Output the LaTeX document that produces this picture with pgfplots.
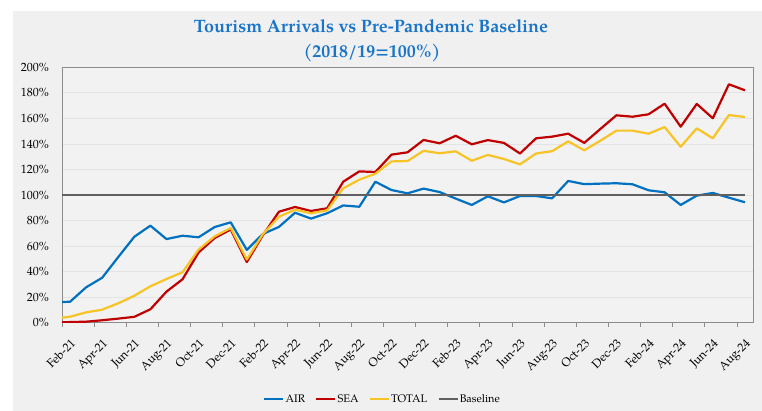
\documentclass[border=0pt]{standalone}
\usepackage{pgfplots}
\pgfplotsset{compat=1.18}
\usepackage{fontspec}
\setmainfont{texgyrepagella}[Extension=.otf, UprightFont=*-regular, BoldFont=*-bold, ItalicFont=*-italic, BoldItalicFont=*-bolditalic]
\definecolor{airc}{HTML}{0070C0}
\definecolor{seac}{HTML}{C00000}
\definecolor{totc}{HTML}{F7C325}
\definecolor{basec}{HTML}{606060}
\definecolor{bgc}{HTML}{F0F0F0}
\definecolor{plotbg}{HTML}{F2F2F2}
\definecolor{gridc}{HTML}{E3E3E3}
\definecolor{titc}{HTML}{1A75C8}
\definecolor{axc}{HTML}{8C8C8C}
\begin{document}
\begin{tikzpicture}
\useasboundingbox (0bp,0bp) rectangle (762bp,411bp);
\fill[white] (0bp,0bp) rectangle (762bp,411bp);
\fill[bgc] (13bp,0bp) rectangle (762bp,400bp);
\node[font=\fontsize{18}{21}\selectfont\bfseries, text=titc, anchor=base] at (371bp,378bp) {Tourism Arrivals vs Pre-Pandemic Baseline};
\node[font=\fontsize{18}{21}\selectfont\bfseries, text=titc, anchor=base] at (372bp,353bp) {(2018/19=100\%)};
\begin{axis}[
  at={(62bp,88.3bp)}, anchor=south west,
  scale only axis, width=691bp, height=255.4bp,
  xmin=0, xmax=43, ymin=0, ymax=200,
  axis background/.style={fill=plotbg},
  axis line style={draw=axc, line width=0.8bp},
  xtick={0,2,...,42},
  xticklabels={Feb-21,Apr-21,Jun-21,Aug-21,Oct-21,Dec-21,Feb-22,Apr-22,Jun-22,Aug-22,Oct-22,Dec-22,Feb-23,Apr-23,Jun-23,Aug-23,Oct-23,Dec-23,Feb-24,Apr-24,Jun-24,Aug-24},
  ytick={0,20,...,200},
  yticklabels={0\%,20\%,40\%,60\%,80\%,100\%,120\%,140\%,160\%,180\%,200\%},
  ymajorgrids, major grid style={draw=gridc, line width=0.8bp},
  tick align=outside, xtick pos=left, ytick pos=left,
  major tick length=4bp,
  ytick style={draw=none},
  xtick style={draw=axc, line width=0.8bp},
  tick label style={font=\fontsize{12}{14}\selectfont},
  /pgf/number format/assume math mode=true,
  yticklabel style={inner sep=0pt, xshift=-9bp},
  xticklabel style={anchor=north east, inner sep=0pt, xshift=8bp, yshift=-11bp, rotate=45},
  legend style={at={(0.463,-0.299)}, anchor=center, draw=none, fill=none, font=\fontsize{11}{13}\selectfont, inner sep=0pt,
    nodes={inner xsep=1bp},
    /tikz/every even column/.append style={column sep=9bp},
    /tikz/every odd column/.append style={column sep=0bp}},
  legend columns=4,
  legend image code/.code={\draw[#1, line width=2.5bp] (0bp,0bp) -- (19bp,0bp);},
  every axis plot/.append style={line join=round},
]
\addplot[draw=airc, line width=2.2bp] coordinates {
(0,16.2) (0.5,16.4) (1.5,27.7) (2.5,35.2) (3.5,51.4) (4.5,67.3) (5.5,76.0) (6.5,65.5) (7.5,68.1) (8.5,66.9) (9.5,74.9) (10.5,78.6)
(11.5,57.0) (12.5,69.5) (13.5,75.0) (14.5,86.1) (15.5,81.5) (16.5,85.7) (17.5,91.8) (18.5,90.8) (19.5,110.4) (20.5,103.9) (21.5,101.3)
(22.5,105.0) (23.5,102.3) (24.5,97.2) (25.5,92.2) (26.5,99.0) (27.5,94.2) (28.5,99.2) (29.5,99.2) (30.5,97.4) (31.5,111.0) (32.5,108.5)
(33.5,108.9) (34.5,109.2) (35.5,108.4) (36.5,103.7) (37.5,102.1) (38.5,92.2) (39.5,99.5) (40.5,101.6) (41.5,97.9) (42.5,94.3)};
\addlegendentry{AIR}
\addplot[draw=seac, line width=2.2bp] coordinates {
(0,0.3) (0.5,0.5) (1.5,0.8) (2.5,1.9) (3.5,3.2) (4.5,4.6) (5.5,10.5) (6.5,24.3) (7.5,34.0) (8.5,55.0) (9.5,66.3) (10.5,73.0)
(11.5,47.5) (12.5,68.5) (13.5,86.9) (14.5,90.6) (15.5,87.5) (16.5,89.6) (17.5,110.4) (18.5,118.5) (19.5,118.0) (20.5,131.6) (21.5,133.4)
(22.5,143.1) (23.5,140.5) (24.5,146.4) (25.5,139.7) (26.5,143.0) (27.5,140.8) (28.5,132.5) (29.5,144.4) (30.5,145.7) (31.5,148.0) (32.5,140.8)
(33.5,151.7) (34.5,162.4) (35.5,161.3) (36.5,163.2) (37.5,171.5) (38.5,153.5) (39.5,171.3) (40.5,160.1) (41.5,186.7) (42.5,182.0)};
\addlegendentry{SEA}
\addplot[draw=totc, line width=2.2bp] coordinates {
(0,3.9) (0.5,4.7) (1.5,8.1) (2.5,10.2) (3.5,15.2) (4.5,21.1) (5.5,28.5) (6.5,34.2) (7.5,39.5) (8.5,57.3) (9.5,67.6) (10.5,74.2)
(11.5,49.5) (12.5,69.3) (13.5,83.0) (14.5,88.5) (15.5,85.7) (16.5,88.0) (17.5,105.2) (18.5,112.0) (19.5,116.7) (20.5,126.3) (21.5,126.6)
(22.5,134.6) (23.5,132.7) (24.5,134.2) (25.5,126.8) (26.5,131.4) (27.5,128.2) (28.5,124.0) (29.5,132.5) (30.5,134.3) (31.5,142.0) (32.5,135.0)
(33.5,142.5) (34.5,150.4) (35.5,150.4) (36.5,148.0) (37.5,153.2) (38.5,137.8) (39.5,152.2) (40.5,144.4) (41.5,162.6) (42.5,161.1)};
\addlegendentry{TOTAL}
\addplot[draw=basec, line width=2.8bp] coordinates {(0,100) (42.5,100)};
\addlegendentry{Baseline}
\end{axis}
\end{tikzpicture}
\end{document}
